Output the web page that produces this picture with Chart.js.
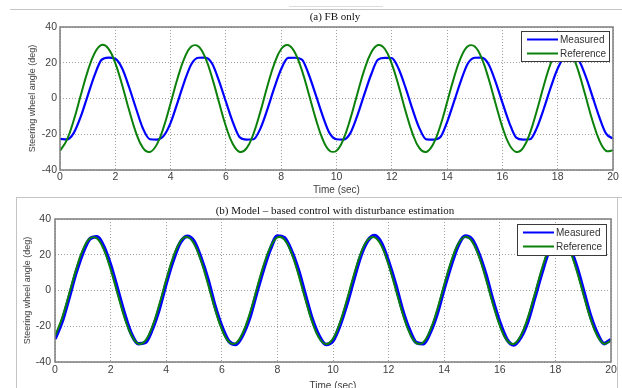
<!DOCTYPE html>
<html>
<head>
<meta charset="utf-8">
<script src="https://cdn.jsdelivr.net/npm/chart.js@4/dist/chart.umd.min.js"></script>
<style>
  body { margin: 0; width: 622px; height: 388px; overflow: hidden; position: relative; background: #fff; }
  canvas { position: absolute; left: 0; }
  .rule { position: absolute; height: 1px; background: #c4c4c4; }
  .vrule { position: absolute; width: 1px; background: #c4c4c4; }
  .ttl { position: absolute; left: 0; width: 670px; text-align: center; font: 11px "Liberation Serif", "Times New Roman", serif; color: #111; line-height: 12px; white-space: nowrap; }
</style>
</head>
<body>
<canvas id="fb" width="622" height="196" style="top:0"></canvas>
<canvas id="mb" width="622" height="198" style="top:197px"></canvas>
<div class="rule" style="left:10px;top:9px;width:612px"></div>
<div class="rule" style="left:289px;top:6px;width:94px;background:#dcdcdc"></div>
<div class="rule" style="left:16px;top:197px;width:606px"></div>
<div class="vrule" style="left:16px;top:197px;height:191px"></div>
<div class="vrule" style="left:617px;top:197px;height:191px"></div>
<div class="ttl" style="top:10px">(a) FB only</div>
<div class="ttl" style="top:204px">(b) Model – based control with disturbance estimation</div>
<script>
// time axis (s), one sample every 0.25 s
const timeSec = [
  0, 0.25, 0.5, 0.75, 1, 1.25, 1.5, 1.75, 2, 2.25,
  2.5, 2.75, 3, 3.25, 3.5, 3.75, 4, 4.25, 4.5, 4.75,
  5, 5.25, 5.5, 5.75, 6, 6.25, 6.5, 6.75, 7, 7.25,
  7.5, 7.75, 8, 8.25, 8.5, 8.75, 9, 9.25, 9.5, 9.75,
  10, 10.25, 10.5, 10.75, 11, 11.25, 11.5, 11.75, 12, 12.25,
  12.5, 12.75, 13, 13.25, 13.5, 13.75, 14, 14.25, 14.5, 14.75,
  15, 15.25, 15.5, 15.75, 16, 16.25, 16.5, 16.75, 17, 17.25,
  17.5, 17.75, 18, 18.25, 18.5, 18.75, 19, 19.25, 19.5, 19.75,
  20
];

// (a) FB only
const fbMeasured = [
  -22.6, -22.9, -19.2, -10.2, 1.5, 12.9, 21.6, 22.9, 22.2, 16.8,
  6.3, -5.6, -16.8, -22.8, -23.0, -20.9, -13.6, -2.3, 9.5, 19.2,
  22.8, 22.9, 19.6, 9.9, -1.8, -13.2, -21.7, -23.0, -22.8, -16.7,
  -6.1, 5.9, 16.5, 22.7, 22.8, 21.8, 13.3, 2.0, -9.7, -19.4,
  -22.8, -23.0, -19.4, -9.7, 2.0, 13.3, 21.8, 22.7, 22.6, 16.5,
  5.9, -6.1, -16.7, -22.9, -23.0, -21.7, -13.2, -1.8, 9.9, 19.6,
  22.8, 22.9, 19.2, 9.5, -2.3, -13.6, -21.9, -23.0, -22.8, -16.3,
  -5.6, 6.3, 16.8, 22.8, 22.9, 21.5, 12.9, 1.5, -10.2, -19.7,
  -22.4
];
const fbReference = [
  -29.3, -23.1, -12.0, 1.8, 15.2, 25.3, 29.9, 27.9, 19.8, 7.4,
  -6.6, -19.2, -27.6, -29.9, -25.8, -16.0, -2.7, 11.2, 22.6, 29.1,
  29.2, 23.0, 11.7, -2.1, -15.5, -25.5, -29.9, -27.8, -19.6, -7.2,
  6.9, 19.4, 27.7, 29.9, 25.6, 15.7, 2.4, -11.4, -22.8, -29.2,
  -29.2, -22.8, -11.4, 2.4, 15.7, 25.6, 29.9, 27.7, 19.4, 6.9,
  -7.2, -19.6, -27.8, -29.9, -25.5, -15.5, -2.1, 11.7, 23.0, 29.2,
  29.1, 22.6, 11.2, -2.7, -16.0, -25.8, -29.9, -27.6, -19.2, -6.6,
  7.4, 19.8, 27.9, 29.9, 25.3, 15.2, 1.8, -12.0, -23.2, -29.3,
  -29.0
];

// (b) model-based control with disturbance estimation
const mbMeasured = [
  -27.0, -17.6, -4.3, 9.6, 21.0, 28.8, 30.1, 24.8, 14.2, 0.7,
  -13.0, -24.3, -29.8, -29.1, -21.6, -10.3, 4.1, 16.8, 26.6, 30.3,
  27.6, 18.3, 6.3, -8.4, -20.1, -28.3, -30.2, -25.0, -15.4, -1.5,
  11.8, 23.3, 30.5, 29.5, 22.4, 11.7, -2.2, -15.9, -25.4, -30.2,
  -28.1, -19.5, -7.6, 6.3, 19.4, 27.8, 30.7, 26.3, 16.0, 3.5,
  -10.9, -22.0, -29.2, -29.8, -23.4, -12.9, 1.2, 14.2, 25.1, 30.4,
  28.6, 20.5, 8.9, -5.5, -17.8, -27.2, -30.5, -26.4, -17.7, -4.4,
  9.2, 21.5, 28.4, 29.9, 24.3, 14.2, 0.6, -13.5, -23.8, -29.7,
  -27.4
];
const mbReference = [
  -25.5, -15.6, -2.4, 11.4, 22.7, 29.1, 29.2, 23.1, 11.9, -1.8,
  -15.2, -25.2, -29.8, -28.0, -20.2, -7.9, 6.0, 18.7, 27.3, 30.0,
  26.2, 16.8, 3.8, -10.1, -21.8, -28.7, -29.5, -23.9, -13.2, 0.4,
  13.9, 24.4, 29.7, 28.5, 21.2, 9.3, -4.6, -17.5, -26.6, -30.0,
  -26.9, -18.0, -5.2, 8.7, 20.8, 28.3, 29.7, 24.8, 14.4, 1.0,
  -12.7, -23.6, -29.4, -28.9, -22.1, -10.6, 3.2, 16.3, 26.0, 30.0,
  27.5, 19.1, 6.5, -7.4, -19.7, -27.8, -29.9, -25.5, -15.6, -2.4,
  11.4, 22.7, 29.1, 29.2, 23.1, 11.9, -1.8, -15.2, -25.2, -29.8,
  -28.0
];

const xTicks = [0, 2, 4, 6, 8, 10, 12, 14, 16, 18, 20];
const yTicks = [-40, -20, 0, 20, 40];
const seriesNames = ['Measured', 'Reference'];
const xTitle = 'Time (sec)';
const yTitle = 'Steering wheel angle (deg)';

Chart.defaults.font.family = '"Liberation Sans", Arial, sans-serif';
Chart.defaults.color = '#404040';

function points(values) {
    return timeSec.map((t, i) => ({ x: t, y: values[i] }));
}

// box round the axes + legend in the upper right corner
const boxPlugin = {
    id: 'box',
    afterDatasetsDraw(chart, args, opts) {
        const { ctx, chartArea: a } = chart;
        ctx.save();
        ctx.strokeStyle = '#7d7d7d';
        ctx.lineWidth = 1.5;
        ctx.strokeRect(a.left, a.top, a.right - a.left, a.bottom - a.top);

        const x0 = Math.round(a.right - opts.right - opts.w);
        const y0 = Math.round(a.top + opts.top);
        ctx.fillStyle = '#fff';
        ctx.fillRect(x0, y0, opts.w, opts.h);
        ctx.strokeStyle = '#3a3a3a';
        ctx.lineWidth = 1;
        ctx.strokeRect(x0 + 0.5, y0 + 0.5, opts.w, opts.h);

        ctx.font = '10px "Liberation Sans", Arial, sans-serif';
        ctx.textBaseline = 'middle';
        chart.data.datasets.forEach((ds, i) => {
            const y = y0 + 8.5 + i * 14;
            ctx.strokeStyle = ds.borderColor;
            ctx.lineWidth = 2;
            ctx.beginPath();
            ctx.moveTo(x0 + 6, y);
            ctx.lineTo(x0 + 37, y);
            ctx.stroke();
            ctx.fillStyle = '#333';
            ctx.fillText(ds.label, x0 + 39, y + 0.5);
        });
        ctx.restore();
    }
};

function makeChart(id, measured, reference, o) {
    return new Chart(document.getElementById(id), {
        type: 'line',
        data: {
            datasets: [
                {
                    label: seriesNames[0],
                    data: points(measured),
                    borderColor: '#0000ff',
                    borderWidth: o.blueWidth,
                    pointRadius: 0,
                    cubicInterpolationMode: 'monotone',
                    order: 2
                },
                {
                    label: seriesNames[1],
                    data: points(reference),
                    borderColor: '#0b800b',
                    borderWidth: 2,
                    pointRadius: 0,
                    tension: 0.4,
                    order: 1
                }
            ]
        },
        options: {
            responsive: false,
            animation: false,
            layout: { padding: { left: o.padLeft, right: o.padRight, top: o.padTop, bottom: 0 } },
            plugins: {
                legend: { display: false },
                tooltip: { enabled: false },
                box: o.legendBox
            },
            scales: {
                x: {
                    type: 'linear',
                    min: 0,
                    max: 20,
                    afterBuildTicks: s => { s.ticks = xTicks.map(v => ({ value: v })); },
                    afterFit: s => { s.height = o.xHeight; },
                    ticks: { padding: o.xTickPad, maxRotation: 0, font: { size: 10.5 } },
                    grid: { color: '#a0a0a0', lineWidth: 1, drawTicks: false },
                    border: { display: false, dash: [1, 2] },
                    title: { display: true, text: xTitle, font: { size: 10 }, padding: { top: 0, bottom: o.xTitlePad } }
                },
                y: {
                    min: -40,
                    max: 40,
                    afterBuildTicks: s => { s.ticks = yTicks.map(v => ({ value: v })); },
                    afterFit: s => { s.width = 40; },
                    ticks: { padding: o.yTickPad, font: { size: 10.5 } },
                    grid: { color: '#a0a0a0', lineWidth: 1, drawTicks: false },
                    border: { display: false, dash: [1, 2] },
                    title: { display: true, text: yTitle, font: { size: 9 }, padding: { top: 7, bottom: 0 } }
                }
            }
        },
        plugins: [boxPlugin]
    });
}

makeChart('fb', fbMeasured, fbReference, {
    padLeft: 20, padRight: 9, padTop: 27,
    xHeight: 26, xTickPad: 1, xTitlePad: 0, yTickPad: 3,
    blueWidth: 2.2,
    legendBox: { right: 4, top: 4, w: 88, h: 30 }
});

makeChart('mb', mbMeasured, mbReference, {
    padLeft: 15, padRight: 11, padTop: 22,
    xHeight: 33, xTickPad: 2, xTitlePad: 3, yTickPad: 4,
    blueWidth: 3.6,
    legendBox: { right: 5, top: 5, w: 89, h: 31 }
});
</script>
</body>
</html>
